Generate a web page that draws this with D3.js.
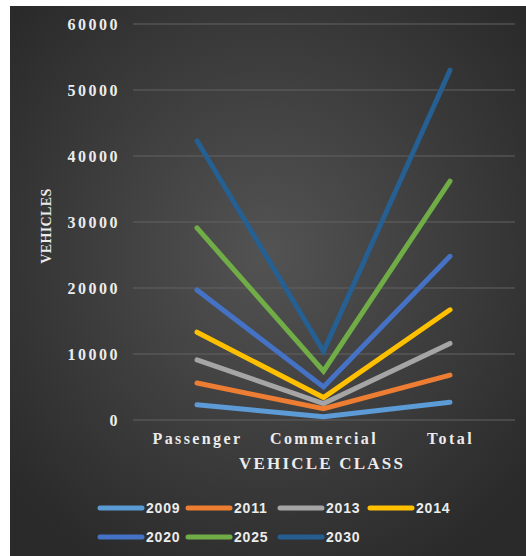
<!DOCTYPE html>
<html>
<head>
<meta charset="utf-8">
<script src="https://cdn.jsdelivr.net/npm/d3@7"></script>
<style>
  html, body { margin: 0; padding: 0; background: #fff; }
  svg { display: block; }
</style>
</head>
<body>
<div id="chart"></div>
<script>
const categories = ['Passenger', 'Commercial', 'Total']
const years = ['2009', '2011', '2013', '2014', '2020', '2025', '2030']
const values2009 = [2300, 500, 2700]
const values2011 = [5600, 1700, 6800]
const values2013 = [9100, 2500, 11600]
const values2014 = [13300, 3400, 16700]
const values2020 = [19700, 5000, 24800]
const values2025 = [29100, 7400, 36200]
const values2030 = [42300, 10400, 53000]
const yTicks = [0, 10000, 20000, 30000, 40000, 50000, 60000]
const colors = ['#5b9bd5', '#ed7d31', '#a5a5a5', '#ffc000', '#4472c4', '#70ad47', '#255e91']

const series = [values2009, values2011, values2013, values2014, values2020, values2025, values2030]
  .map((v, i) => ({ year: years[i], values: v, color: colors[i] }))

const width = 526
const height = 556
const textColor = '#ececec'
const serif = 'Liberation Serif, Times New Roman, serif'

const svg = d3.select('#chart').append('svg')
  .attr('width', width)
  .attr('height', height)

const defs = svg.append('defs')
const grad = defs.append('radialGradient')
  .attr('id', 'bg')
  .attr('cx', '50%').attr('cy', '45%').attr('r', '65%')
grad.append('stop').attr('offset', '0%').attr('stop-color', '#535353')
grad.append('stop').attr('offset', '100%').attr('stop-color', '#2a2a2a')

const soft = defs.append('filter')
  .attr('id', 'soft')
  .attr('filterUnits', 'userSpaceOnUse')
  .attr('x', 0).attr('y', 0).attr('width', width).attr('height', height)
soft.append('feGaussianBlur').attr('stdDeviation', 0.6)

// white strip on top/left like the cropped screenshot
svg.append('rect').attr('width', width).attr('height', height).attr('fill', '#ffffff')
svg.append('rect')
  .attr('x', 10).attr('y', 6)
  .attr('width', width - 10).attr('height', height - 6)
  .attr('fill', 'url(#bg)')

const x = d3.scalePoint().domain(categories).range([197, 450])
const y = d3.scaleLinear().domain([0, 60000]).range([420, 24])

// gridlines
svg.append('g')
  .selectAll('line')
  .data(yTicks)
  .join('line')
  .attr('x1', 133).attr('x2', 515)
  .attr('y1', (d) => y(d)).attr('y2', (d) => y(d))
  .attr('stroke', '#626262')
  .attr('stroke-width', 1)

// y axis labels
const yAxis = svg.append('g')
  .attr('transform', 'translate(120,0)')
  .call(d3.axisLeft(y).tickValues(yTicks).tickSize(0).tickPadding(0).tickFormat(d3.format('d')))
yAxis.select('.domain').remove()
yAxis.selectAll('text')
  .attr('fill', textColor)
  .attr('font-family', serif)
  .attr('font-weight', 'bold')
  .attr('font-size', 16)
  .attr('letter-spacing', 2.5)
  .attr('dy', '0.35em')

// x axis labels
const xAxis = svg.append('g')
  .attr('transform', 'translate(0,433)')
  .call(d3.axisBottom(x).tickSize(0).tickPadding(0))
xAxis.select('.domain').remove()
xAxis.selectAll('text')
  .attr('fill', textColor)
  .attr('font-family', serif)
  .attr('font-weight', 'bold')
  .attr('font-size', 16)
  .attr('letter-spacing', 2.4)
  .attr('dy', '0.71em')

// axis titles
svg.append('text')
  .attr('x', 322).attr('y', 469)
  .attr('text-anchor', 'middle')
  .attr('fill', textColor)
  .attr('font-family', serif)
  .attr('font-weight', 'bold')
  .attr('font-size', 17)
  .attr('letter-spacing', 2.2)
  .text('VEHICLE CLASS')

svg.append('text')
  .attr('transform', 'translate(51,226) rotate(-90)')
  .attr('text-anchor', 'middle')
  .attr('fill', textColor)
  .attr('font-family', serif)
  .attr('font-weight', 'bold')
  .attr('font-size', 14)
  .attr('letter-spacing', 0.4)
  .text('VEHICLES')

// lines
const line = d3.line()
  .x((d, i) => x(categories[i]))
  .y((d) => y(d))

svg.append('g')
  .attr('filter', 'url(#soft)')
  .selectAll('path')
  .data(series)
  .join('path')
  .attr('d', (d) => line(d.values))
  .attr('fill', 'none')
  .attr('stroke', (d) => d.color)
  .attr('stroke-width', 5)
  .attr('stroke-linejoin', 'miter')
  .attr('stroke-linecap', 'round')

// legend
const legendCols = [98, 186, 278, 368]
const legendRows = [508, 537]
const legend = svg.append('g')
  .selectAll('g')
  .data(series)
  .join('g')
  .attr('transform', (d, i) => `translate(${legendCols[i % 4]},${legendRows[Math.floor(i / 4)]})`)

legend.append('line')
  .attr('x1', 2).attr('x2', 44)
  .attr('y1', 0).attr('y2', 0)
  .attr('stroke', (d) => d.color)
  .attr('stroke-width', 5)
  .attr('stroke-linecap', 'round')

legend.append('text')
  .attr('x', 48).attr('y', 0)
  .attr('dy', '0.35em')
  .attr('fill', textColor)
  .attr('font-family', 'Liberation Sans, Arial, sans-serif')
  .attr('font-weight', 'bold')
  .attr('font-size', 14)
  .attr('letter-spacing', 0.8)
  .text((d) => d.year)
</script>
</body>
</html>
